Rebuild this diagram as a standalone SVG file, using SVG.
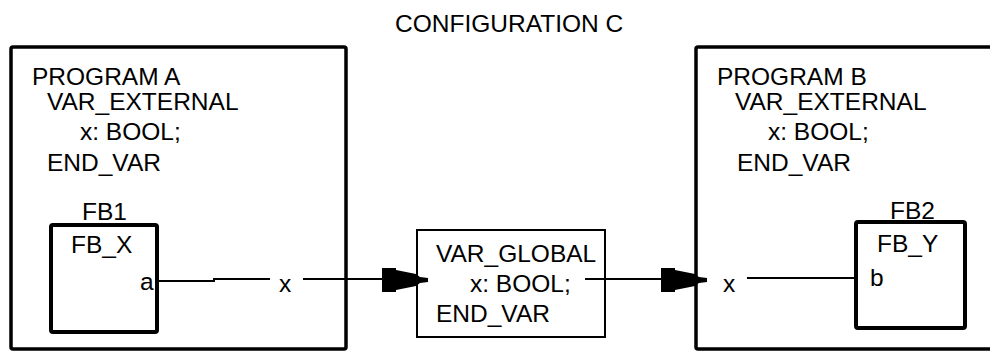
<svg xmlns="http://www.w3.org/2000/svg" width="990" height="351" viewBox="0 0 990 351">
<style>
text{font-family:"Liberation Sans",Arial,sans-serif;font-size:24.5px;fill:#000}
.prog{fill:none;stroke:#000;stroke-width:3.5;stroke-linejoin:round}
.fb{fill:none;stroke:#000;stroke-width:4;stroke-linejoin:round}
.glob{fill:none;stroke:#000;stroke-width:2}
.wire{fill:none;stroke:#000;stroke-width:2}
.head{fill:#000;stroke:none}
</style>
<defs>
<path id="arrowhead" d="M-46,-12 L-32,-12 L-32,-10 L-12,-6 L-8,-3 L0,-2 L0,2 L-8,3 L-12,6 L-32,10 L-32,12 L-46,12 Z"/>
</defs>
<text id="title" x="395" y="32">CONFIGURATION C</text>
<g id="programA">
<rect class="prog" x="11" y="47" width="335" height="302" rx="2"/>
<text x="32" y="85">PROGRAM A</text>
<text x="47" y="110">VAR_EXTERNAL</text>
<text x="80" y="140">x: BOOL;</text>
<text x="47" y="171">END_VAR</text>
</g>
<g id="fb1">
<text x="82" y="220">FB1</text>
<rect class="fb" x="51" y="225" width="106" height="107" rx="2"/>
<text x="71" y="253">FB_X</text>
<text x="140" y="290">a</text>
</g>
<g id="varGlobal">
<rect class="glob" x="417" y="230" width="188" height="107"/>
<text x="436" y="262">VAR_GLOBAL</text>
<text x="470" y="292">x: BOOL;</text>
<text x="436" y="322">END_VAR</text>
</g>
<g id="programB">
<rect class="prog" x="696" y="47" width="320" height="302" rx="2"/>
<text x="717" y="85">PROGRAM B</text>
<text x="735" y="110">VAR_EXTERNAL</text>
<text x="768" y="140">x: BOOL;</text>
<text x="737" y="171">END_VAR</text>
</g>
<g id="fb2">
<text x="890" y="219">FB2</text>
<rect class="fb" x="856" y="222" width="109" height="106" rx="2"/>
<text x="877" y="252">FB_Y</text>
<text x="870" y="286">b</text>
</g>
<g id="connectors">
<path class="wire" d="M157,281 H214 V279 H270"/>
<text x="279" y="292">x</text>
<path class="wire" d="M303,279 H384"/>
<use href="#arrowhead" class="head" transform="translate(428,280)"/>
<path class="wire" d="M585,279 H664"/>
<use href="#arrowhead" class="head" transform="translate(707,280)"/>
<text x="723" y="292">x</text>
<path class="wire" d="M747,278 H856"/>
</g>
</svg>
